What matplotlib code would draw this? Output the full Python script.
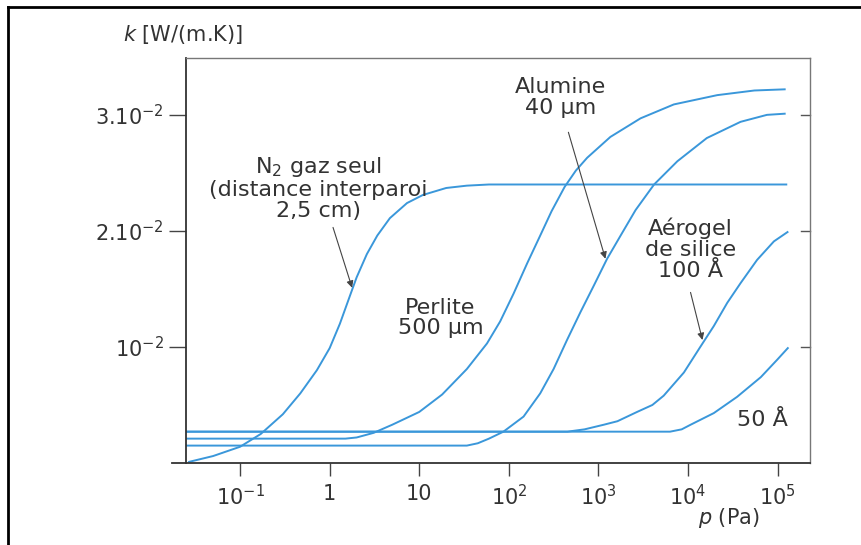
import matplotlib
matplotlib.use("Agg")
import matplotlib.pyplot as plt
from matplotlib.lines import Line2D

plt.rcParams['font.family'] = ['DejaVu Sans']
plt.rcParams['mathtext.default'] = 'regular'

# data: pressure p (Pa) and conductivity k (W/(m.K))
p_n2 = [0.027, 0.05, 0.1, 0.17, 0.3, 0.47, 0.72, 1.0, 1.3, 1.7, 2.0, 2.6, 3.4, 4.7, 7.3, 11,
        20, 34, 60, 1.25e5]
k_n2 = [0.0001, 0.0006, 0.0014, 0.0025, 0.0042, 0.0060, 0.0080, 0.0099, 0.0120, 0.0145, 0.0160,
        0.0180, 0.0196, 0.0211, 0.0224, 0.0231, 0.0237, 0.0239, 0.0240, 0.0240]

p_perlite = [0.025, 1.5, 2.0, 3.1, 5.0, 7.3, 10, 18, 34, 57, 80, 113, 160, 224, 300, 420, 560,
             748, 1360, 2950, 6950, 21200, 55000, 1.2e5]
k_perlite = [0.0021, 0.0021, 0.0022, 0.0026, 0.0033, 0.0039, 0.0044, 0.0059, 0.0081, 0.0103,
             0.0122, 0.0146, 0.0172, 0.0196, 0.0217, 0.0238, 0.0252, 0.0263, 0.0281, 0.0297,
             0.0309, 0.0317, 0.0321, 0.0322]

p_alumine = [0.025, 34, 45, 60, 87, 146, 224, 316, 446, 630, 890, 1250, 1800, 2600, 4180, 7600,
             16200, 38600, 76000, 1.2e5]
k_alumine = [0.0015, 0.0015, 0.0017, 0.0021, 0.0027, 0.0040, 0.0060, 0.0081, 0.0106, 0.0130,
             0.0153, 0.0176, 0.0197, 0.0218, 0.0240, 0.0260, 0.0280, 0.0294, 0.0300, 0.0301]

p_aero100 = [0.025, 450, 700, 1150, 1630, 2700, 4000, 5350, 9000, 13700, 19400, 27400, 38600,
             59000, 91000, 1.29e5]
k_aero100 = [0.0027, 0.0027, 0.0029, 0.0033, 0.0036, 0.0044, 0.0050, 0.0058, 0.0078, 0.0100,
             0.0118, 0.0138, 0.0155, 0.0175, 0.0191, 0.0199]

p_aero50 = [0.025, 6300, 8500, 10700, 19400, 35300, 65000, 99000, 1.3e5]
k_aero50 = [0.0027, 0.0027, 0.0029, 0.0033, 0.0043, 0.0057, 0.0074, 0.0089, 0.0099]

xticks = [0.1, 1, 10, 100, 1e3, 1e4, 1e5]
xlabels = ['$10^{-1}$', '1', '10', '$10^{2}$', '$10^{3}$', '$10^{4}$', '$10^{5}$']
yticks = [0.01, 0.02, 0.03]
ylabels = ['$10^{-2}$', '$2.10^{-2}$', '$3.10^{-2}$']

blue = '#3a97da'
txt = '#333333'
fs = 16

fig = plt.figure(figsize=(8.61, 5.45), dpi=100)
ax = fig.add_axes([186/861, 1 - 463/545, (810-186)/861, (463-58)/545])

for p, k in [(p_n2, k_n2), (p_perlite, k_perlite), (p_alumine, k_alumine),
             (p_aero100, k_aero100), (p_aero50, k_aero50)]:
    ax.plot(p, k, color=blue, lw=1.4, solid_joinstyle='round')

ax.set_xscale('log')
ax.set_xlim(0.0249, 2.3e5)
ax.set_ylim(0, 0.0349)
ax.set_xticks(xticks)
ax.set_xticklabels(xlabels)
ax.set_yticks(yticks)
ax.set_yticklabels(ylabels)
ax.minorticks_off()
ax.tick_params(axis='x', direction='out', length=9, width=1, pad=6, labelsize=15, colors='#444', labelcolor=txt)
ax.tick_params(axis='y', direction='out', length=12, width=1, pad=4, labelsize=15, colors='#444', labelcolor=txt)

for s in ['top', 'right']:
    ax.spines[s].set_color('#777')
    ax.spines[s].set_linewidth(1.0)
for s in ['left', 'bottom']:
    ax.spines[s].set_color('#333')
    ax.spines[s].set_linewidth(1.3)

# right-side inward ticks
for yt in yticks:
    ax.plot([0.985, 1.0], [yt, yt], transform=ax.get_yaxis_transform(), color='#555', lw=1, clip_on=False)
# bottom axis runs a little past the left spine
ax.plot([-0.022, 0], [0, 0], transform=ax.get_yaxis_transform(), color='#333', lw=1.3, clip_on=False)

arrow = dict(arrowstyle='-|>', color='#444', lw=0.8, mutation_scale=10, shrinkA=0, shrinkB=0)

ax.text(0.744, 0.0237, 'N$_2$ gaz seul\n(distance interparoi\n2,5 cm)', ha='center', va='center',
        fontsize=fs, color=txt, linespacing=1.05)
ax.annotate('', xy=(1.78, 0.0151), xytext=(1.09, 0.0203), arrowprops=arrow)

ax.text(17.2, 0.0125, 'Perlite\n500 µm', ha='center', va='center', fontsize=fs, color=txt, linespacing=1.05)

ax.text(376, 0.0315, 'Alumine\n40 µm', ha='center', va='center', fontsize=fs, color=txt, linespacing=1.05)
ax.annotate('', xy=(1197, 0.0176), xytext=(462, 0.0285), arrowprops=arrow)

ax.text(10670, 0.0184, 'Aérogel\nde silice\n100 Å', ha='center', va='center', fontsize=fs,
        color=txt, linespacing=1.05)
ax.annotate('', xy=(14500, 0.0106), xytext=(10670, 0.0147), arrowprops=arrow)

ax.text(1.29e5, 0.0037, '50 Å', ha='right', va='center', fontsize=fs, color=txt)

fig.text(123/861, 1 - 34/545, '$\\mathit{k}$ [W/(m.K)]', ha='left', va='center', fontsize=15, color=txt)
fig.text(698/861, 1 - 518/545, '$\\mathit{p}$ (Pa)', ha='left', va='center', fontsize=15, color=txt)

# outer frame of the scanned figure
fig.add_artist(Line2D([8/861, 8/861], [0, 1 - 7/545], transform=fig.transFigure, color='black', lw=2))
fig.add_artist(Line2D([8/861, 1], [1 - 7/545, 1 - 7/545], transform=fig.transFigure, color='black', lw=2))

fig.savefig('out.png', dpi=100)
